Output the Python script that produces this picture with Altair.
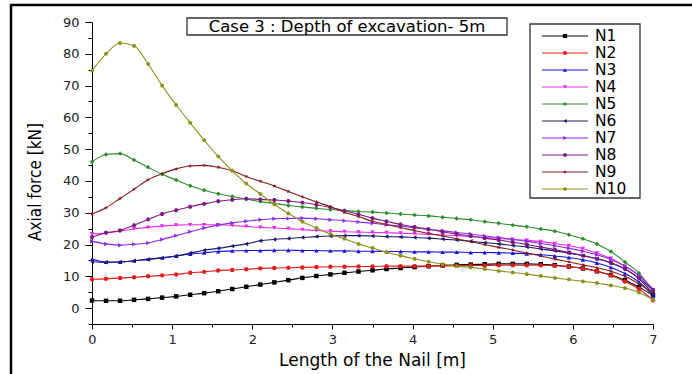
import altair as alt
import pandas as pd

# Position along the nail [m]
length_m = [0.0, 0.175, 0.35, 0.525, 0.7, 0.875, 1.05, 1.225, 1.4, 1.575, 1.75,
            1.925, 2.1, 2.275, 2.45, 2.625, 2.8, 2.975, 3.15, 3.325, 3.5,
            3.675, 3.85, 4.025, 4.2, 4.375, 4.55, 4.725, 4.9, 5.075, 5.25,
            5.425, 5.6, 5.775, 5.95, 6.125, 6.3, 6.475, 6.65, 6.825, 7.0]

# Axial force [kN] in each nail
n1 = [2.4, 2.3, 2.3, 2.6, 2.9, 3.3, 3.7, 4.2, 4.7, 5.3, 6.0, 6.7, 7.4, 8.1, 8.8,
      9.5, 10.1, 10.6, 11.1, 11.5, 11.9, 12.3, 12.6, 12.9, 13.2, 13.4, 13.6,
      13.7, 13.8, 13.9, 13.9, 13.9, 13.8, 13.5, 13.1, 12.5, 11.6, 10.4, 8.8,
      6.6, 4.0]
n2 = [9.1, 9.2, 9.5, 9.7, 10.0, 10.3, 10.6, 11.1, 11.4, 11.8, 12.0, 12.2, 12.5,
      12.6, 12.7, 12.8, 12.9, 13.0, 13.0, 13.1, 13.1, 13.2, 13.2, 13.2, 13.2,
      13.3, 13.3, 13.4, 13.4, 13.5, 13.5, 13.5, 13.5, 13.3, 13.0, 12.5, 11.6,
      10.3, 8.4, 6.0, 2.5]
n3 = [15.4, 14.5, 14.5, 14.9, 15.4, 15.8, 16.4, 17.0, 17.4, 17.8, 18.0, 18.1,
      18.1, 18.2, 18.2, 18.1, 18.1, 18.0, 18.0, 17.9, 17.9, 17.8, 17.8, 17.7,
      17.7, 17.6, 17.6, 17.5, 17.5, 17.4, 17.3, 17.1, 16.8, 16.4, 15.9, 15.2,
      14.2, 12.8, 10.9, 8.2, 4.0]
n4 = [23.3, 23.6, 24.2, 24.9, 25.4, 25.8, 26.1, 26.2, 26.2, 26.2, 26.0, 25.7,
      25.4, 25.2, 25.0, 24.7, 24.4, 24.2, 24.0, 23.9, 23.8, 23.7, 23.6, 23.4,
      23.2, 23.0, 22.8, 22.5, 22.2, 21.9, 21.6, 21.3, 20.9, 20.3, 19.6, 18.7,
      17.3, 15.6, 13.2, 10.3, 5.6]
n5 = [46.0, 48.3, 48.6, 46.6, 44.3, 42.1, 40.3, 38.5, 37.1, 36.0, 35.1, 34.3,
      33.5, 32.9, 32.3, 31.8, 31.4, 31.0, 30.7, 30.4, 30.2, 29.9, 29.6, 29.3,
      29.0, 28.6, 28.2, 27.8, 27.2, 26.7, 26.1, 25.6, 24.9, 24.2, 23.1, 21.8,
      20.2, 17.8, 14.5, 11.0, 5.2]
n6 = [14.6, 14.4, 14.5, 14.9, 15.3, 15.8, 16.4, 17.3, 18.2, 18.8, 19.5, 20.2,
      21.2, 21.6, 21.9, 22.2, 22.5, 22.7, 22.8, 22.8, 22.7, 22.5, 22.4, 22.2,
      22.0, 21.7, 21.4, 21.0, 20.6, 20.2, 19.7, 19.2, 18.6, 18.0, 17.3, 16.5,
      15.6, 14.3, 12.4, 9.3, 4.5]
n7 = [21.0, 20.2, 19.8, 20.1, 20.5, 21.6, 22.8, 24.0, 25.2, 26.1, 26.8, 27.3,
      27.8, 28.1, 28.2, 28.3, 28.1, 27.8, 27.5, 27.1, 26.7, 26.2, 25.8, 25.2,
      24.8, 24.3, 23.8, 23.3, 22.7, 22.2, 21.6, 21.0, 20.3, 19.6, 18.8, 17.9,
      16.8, 15.3, 13.2, 10.2, 6.0]
n8 = [22.3, 23.7, 24.4, 26.1, 27.9, 29.6, 30.8, 31.9, 32.8, 33.6, 34.1, 34.4,
      34.2, 34.0, 33.7, 33.2, 32.5, 31.7, 30.6, 29.5, 28.3, 27.3, 26.3, 25.5,
      24.8, 24.0, 23.3, 22.7, 22.0, 21.4, 20.7, 20.0, 19.2, 18.4, 17.5, 16.5,
      15.5, 14.2, 12.3, 9.4, 5.6]
n9 = [29.6, 31.6, 34.5, 37.4, 40.4, 42.3, 43.8, 44.7, 44.9, 44.3, 43.2, 41.4,
      39.9, 38.4, 36.7, 35.0, 33.4, 31.9, 30.1, 28.8, 27.3, 26.3, 25.3, 24.4,
      23.5, 22.7, 21.8, 20.9, 20.0, 19.1, 18.3, 17.3, 16.4, 15.4, 14.5, 13.6,
      12.7, 11.6, 10.0, 7.6, 4.8]
n10 = [74.7, 80.0, 83.4, 82.5, 76.8, 70.0, 63.9, 58.3, 52.8, 47.7, 43.2, 39.2,
       35.9, 32.6, 29.8, 27.2, 25.2, 23.3, 21.8, 20.2, 18.9, 17.6, 16.5, 15.5,
       14.6, 13.8, 13.2, 12.8, 12.3, 11.7, 11.2, 10.7, 10.1, 9.5, 9.0, 8.4,
       7.9, 7.1, 6.3, 4.9, 2.6]

names = ["N1", "N2", "N3", "N4", "N5", "N6", "N7", "N8", "N9", "N10"]
series = [n1, n2, n3, n4, n5, n6, n7, n8, n9, n10]
colors = ["#000000", "#e31e1e", "#1414dc", "#e62ee6", "#2a8c2a",
          "#1c1c6e", "#8a2be2", "#7d1a7d", "#861c1c", "#8f8f1c"]

hexagon = "M-1,0L-0.5,-0.866L0.5,-0.866L1,0L0.5,0.866L-0.5,0.866Z"
star = ("M0,-1L0.225,-0.309L0.951,-0.309L0.363,0.118L0.588,0.809L0,0.382"
        "L-0.588,0.809L-0.363,0.118L-0.951,-0.309L-0.225,-0.309Z")
pentagon = "M0,-1L0.951,-0.309L0.588,0.809L-0.588,0.809L-0.951,-0.309Z"
shapes = ["square", "circle", "triangle-up", "triangle-down", "diamond",
          "triangle-left", "triangle-right", hexagon, star, pentagon]

x_ticks = [0, 0.5, 1, 1.5, 2, 2.5, 3, 3.5, 4, 4.5, 5, 5.5, 6, 6.5, 7]
y_ticks = [-5, 0, 5, 10, 15, 20, 25, 30, 35, 40, 45, 50, 55, 60, 65, 70, 75,
           80, 85, 90]

chart_title = "Case 3 : Depth of excavation- 5m"
x_title = "Length of the Nail [m]"
y_title = "Axial force [kN]"

W, H = 561, 302
FONT = "DejaVu Sans"

rows = []
for name, vals in zip(names, series):
    for x, v in zip(length_m, vals):
        rows.append({"nail": name, "length": x, "force": v})
df = pd.DataFrame(rows)

color_scale = alt.Scale(domain=names, range=colors)
shape_scale = alt.Scale(domain=names, range=shapes)

x_enc = alt.X(
    "length:Q",
    scale=alt.Scale(domain=[0, 7], nice=False, zero=False),
    axis=alt.Axis(
        values=x_ticks, title=None, grid=False,
        labelExpr="datum.value % 1 === 0 ? '' + datum.value : ''",
        tickSize={"condition": {"test": "datum.value % 1 === 0", "value": 5}, "value": 3},
        labelFont=FONT, labelFontSize=13, labelColor="#222222", labelPadding=4,
        labelFlush=False, labelOverlap=False,
        domainColor="#000000", tickColor="#000000", domainWidth=1, tickWidth=1,
    ),
)
y_enc = alt.Y(
    "force:Q",
    scale=alt.Scale(domain=[-5, 90], nice=False, zero=False),
    axis=alt.Axis(
        values=y_ticks, title=None, grid=False,
        labelExpr="datum.value % 10 === 0 ? '' + datum.value : ''",
        tickSize={"condition": {"test": "datum.value % 10 === 0", "value": 7}, "value": 4},
        labelFont=FONT, labelFontSize=13, labelColor="#222222", labelPadding=6,
        labelFlush=False, labelOverlap=False,
        domainColor="#000000", tickColor="#000000", domainWidth=1, tickWidth=1,
    ),
)

base = alt.Chart(df)
lines = base.mark_line(interpolate="monotone", strokeWidth=1.1).encode(
    x=x_enc, y=y_enc,
    color=alt.Color("nail:N", scale=color_scale, legend=None),
    detail="nail:N",
)
points = base.mark_point(filled=True, size=20, opacity=1).encode(
    x=x_enc, y=y_enc,
    color=alt.Color("nail:N", scale=color_scale, legend=None),
    shape=alt.Shape("nail:N", scale=shape_scale, legend=None),
)
curves = alt.layer(lines, points)

one = pd.DataFrame({"k": [0]})

# outer frame around the figure
frame = alt.Chart(one).mark_rect(fill=None, stroke="#000000", strokeWidth=2.5).encode(
    x=alt.value(-81), x2=alt.value(660), y=alt.value(-17), y2=alt.value(380)
)

# boxed heading
head_box = alt.Chart(one).mark_rect(fill="white", stroke="#333333", strokeWidth=1.3).encode(
    x=alt.value(95), x2=alt.value(415), y=alt.value(-4), y2=alt.value(13)
)
head_txt = alt.Chart(pd.DataFrame({"t": [chart_title]})).mark_text(
    font=FONT, fontSize=16.5, color="#000000", align="center", baseline="middle"
).encode(x=alt.value(255), y=alt.value(5), text="t:N")

# legend
leg = pd.DataFrame({"nail": names, "slot": list(range(len(names)))})
leg_y = alt.Y("slot:Q", scale=alt.Scale(domain=[0, 9], range=[14, 167]), axis=None)
leg_box = alt.Chart(one).mark_rect(fill="white", stroke="#333333", strokeWidth=1.3).encode(
    x=alt.value(438), x2=alt.value(548), y=alt.value(2), y2=alt.value(176)
)
leg_rules = alt.Chart(leg).mark_rule(strokeWidth=1).encode(
    x=alt.value(450), x2=alt.value(496), y=leg_y,
    color=alt.Color("nail:N", scale=color_scale, legend=None),
)
leg_pts = alt.Chart(leg).mark_point(filled=True, size=18, opacity=1).encode(
    x=alt.value(473), y=leg_y,
    color=alt.Color("nail:N", scale=color_scale, legend=None),
    shape=alt.Shape("nail:N", scale=shape_scale, legend=None),
)
leg_txt = alt.Chart(leg).mark_text(
    font=FONT, fontSize=15.5, color="#000000", align="left", baseline="middle"
).encode(x=alt.value(503), y=leg_y, text="nail:N")
legend = alt.layer(leg_rules, leg_pts, leg_txt)

# axis titles
xt = alt.Chart(pd.DataFrame({"t": [x_title]})).mark_text(
    font=FONT, fontSize=17, color="#000000", align="center", baseline="middle"
).encode(x=alt.value(W / 2), y=alt.value(339), text="t:N")
yt = alt.Chart(pd.DataFrame({"t": [y_title]})).mark_text(
    font="Liberation Sans Narrow, DejaVu Sans Condensed, sans-serif", fontSize=17,
    color="#000000", align="center", baseline="middle", angle=270
).encode(x=alt.value(-56), y=alt.value(160), text="t:N")

chart = alt.layer(
    frame, head_box, head_txt, leg_box, curves, legend, xt, yt,
).resolve_scale(y="independent").properties(
    width=W, height=H,
    autosize="none",
    padding={"left": 92, "top": 22, "right": 39, "bottom": 50},
    background="white",
).configure_view(stroke=None)

chart.save("out.html", embed_options={"renderer": "svg", "actions": False})
